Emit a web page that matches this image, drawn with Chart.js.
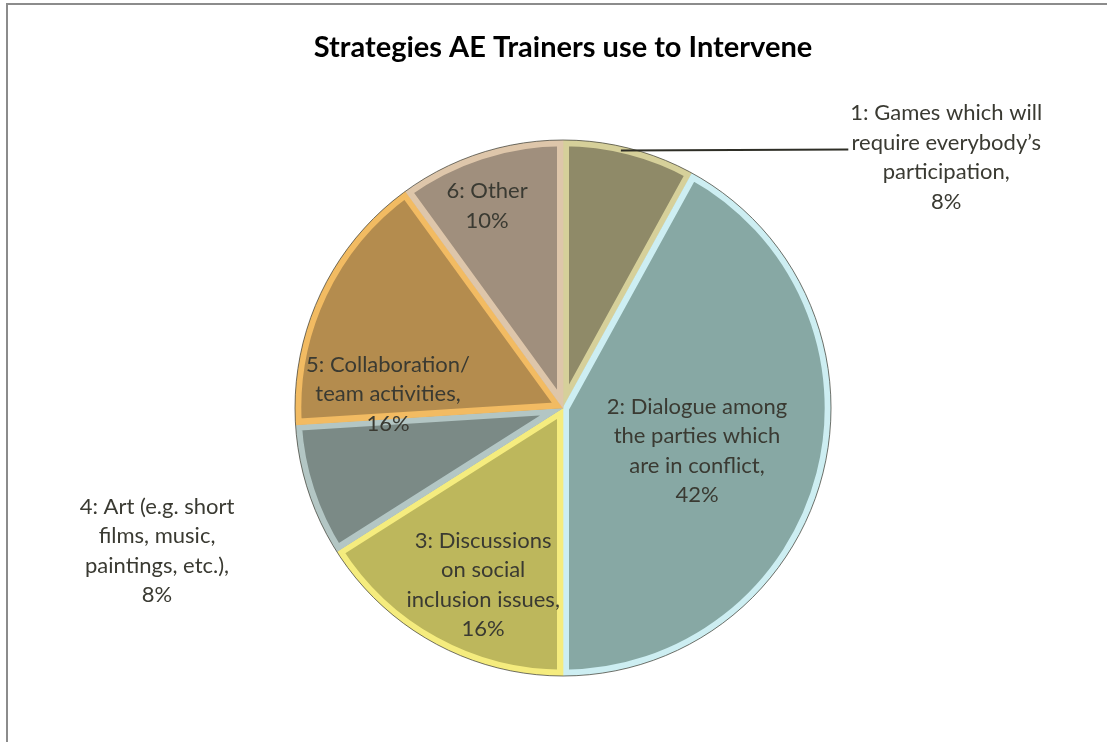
<!DOCTYPE html>
<html><head><meta charset="utf-8">
<script src="https://cdn.jsdelivr.net/npm/chart.js@4/dist/chart.umd.min.js"></script>
<style>
html,body{margin:0;padding:0;background:#fff;overflow:hidden}
#wrap{position:relative;width:1107px;height:742px}
#frame{position:absolute;left:6px;top:3px;width:1200px;height:800px;border-top:2px solid #8c8c8c;border-left:2px solid #8c8c8c}
canvas{position:absolute;left:0;top:0}
</style></head><body>
<div id="wrap"><div id="frame"></div><canvas id="c" width="1107" height="742"></canvas></div>
<script>
const title = "Strategies AE Trainers use to Intervene";
const categories = [
  "1: Games which will\nrequire everybody’s\nparticipation,",
  "2: Dialogue among\nthe parties which\nare in conflict,",
  "3: Discussions\non social\ninclusion issues,",
  "4: Art (e.g. short\nfilms, music,\npaintings, etc.),",
  "5: Collaboration/\nteam activities,",
  "6: Other"
];
const values = [8, 42, 16, 8, 16, 10];
const fillColors = ["#8f8a68", "#87a8a4", "#bdb75c", "#7b8a86", "#b48c4e", "#a08f7d"];
const borderColors = ["#d6d09a", "#cdeef2", "#f5ec7e", "#b3c6c4", "#f2bb62", "#dec6aa"];

// label placement: angle offset from slice middle (deg) and radius factor
const labelPlace = [
  {d: 42.4, f: 1.709}, {d: 3.4, f: 0.525}, {d: -4.5, f: 0.724},
  {d: -1.4, f: 1.606}, {d: -20.6, f: 0.655}, {d: -2.6, f: 0.805}
];
const LINE_H = 29.5;
const LABEL_FONT = "22px Lato";

const pieLabels = {
  id: 'pieLabels',
  afterDatasetsDraw(chart) {
    const ctx = chart.ctx;
    const meta = chart.getDatasetMeta(0);
    const a0 = meta.data[0];
    ctx.save();
    ctx.beginPath();
    ctx.arc(a0.x, a0.y, a0.outerRadius, 0, Math.PI * 2);
    ctx.strokeStyle = 'rgba(70,70,60,0.75)';
    ctx.lineWidth = 1;
    ctx.stroke();
    ctx.font = LABEL_FONT;
    ctx.fillStyle = '#3a3a32';
    ctx.textAlign = 'center';
    ctx.textBaseline = 'middle';
    meta.data.forEach((arc, i) => {
      const lines = categories[i].split('\n').concat([values[i] + '%']);
      const mid = (arc.startAngle + arc.endAngle) / 2 + labelPlace[i].d * Math.PI / 180;
      const r = arc.outerRadius * labelPlace[i].f;
      const cx = arc.x + r * Math.cos(mid);
      const cy = arc.y + r * Math.sin(mid);
      const top = cy - (lines.length - 1) * LINE_H / 2;
      lines.forEach((t, k) => ctx.fillText(t, cx, top + k * LINE_H));
      if (i === 0) {
        const la = arc.startAngle + (arc.endAngle - arc.startAngle) * 0.44;
        const sx = arc.x + arc.outerRadius * 0.985 * Math.cos(la);
        const sy = arc.y + arc.outerRadius * 0.985 * Math.sin(la);
        const w = Math.max(...lines.map(t => ctx.measureText(t).width));
        const ex = cx - w / 2 - 2;
        const ey = top + LINE_H + 7;
        ctx.beginPath();
        ctx.moveTo(sx, sy);
        ctx.lineTo(ex, ey);
        ctx.strokeStyle = '#2e2e26';
        ctx.lineWidth = 2;
        ctx.stroke();
      }
    });
    ctx.restore();
  }
};

new Chart(document.getElementById('c'), {
  type: 'pie',
  data: {
    labels: categories,
    datasets: [{
      data: values,
      backgroundColor: fillColors,
      borderColor: borderColors,
      borderWidth: 6,
      borderAlign: 'inner',
      hoverOffset: 0
    }]
  },
  options: {
    responsive: false,
    devicePixelRatio: 1,
    animation: false,
    radius: 268,
    layout: {padding: {left: 19, right: 0, top: 0, bottom: 66}},
    plugins: {
      legend: {display: false},
      tooltip: {enabled: false},
      title: {
        display: true,
        text: title,
        color: '#000',
        font: {family: 'Lato', size: 29, weight: 'bold', lineHeight: 1.2},
        padding: {top: 30, bottom: 75.2}
      }
    }
  },
  plugins: [pieLabels]
});
</script>
</body></html>
